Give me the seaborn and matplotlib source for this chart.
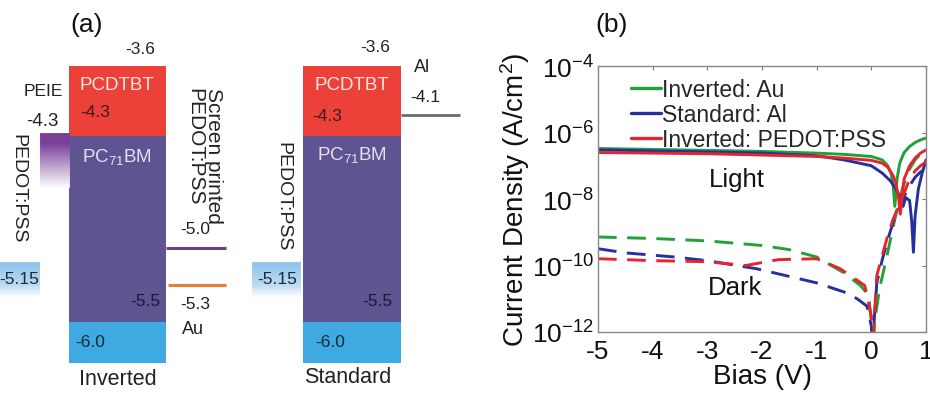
import numpy as np
import pandas as pd
import matplotlib
matplotlib.use("Agg")
import matplotlib.pyplot as plt
import matplotlib.colors as mcolors
from matplotlib.patches import Rectangle
from matplotlib.lines import Line2D
import seaborn as sns

sns.set_theme(style="white")
plt.rcParams["font.family"] = ["Liberation Sans", "DejaVu Sans"]
plt.rcParams["mathtext.fontset"] = "custom"
plt.rcParams["mathtext.rm"] = "Liberation Sans"
plt.rcParams["mathtext.it"] = "Liberation Sans:italic"
plt.rcParams["mathtext.bf"] = "Liberation Sans:bold"
plt.rcParams["axes.unicode_minus"] = False

# ---------------- data: energy levels (eV) ----------------
donor_lumo = -3.6      # PCDTBT LUMO
acceptor_lumo = -4.3   # PC71BM LUMO
donor_homo = -5.5      # PCDTBT HOMO
acceptor_homo = -6.0   # PC71BM HOMO
peie_wf = -4.3
pedot_wf = -5.15
sp_pedot_wf = -5.0
au_wf = -5.3
al_wf = -4.1

# ---------------- data: J-V curves ----------------
inv_au_light_V = [-5, -4, -3, -2, -1, -0.5, 0, 0.2, 0.3, 0.36, 0.4, 0.43, 0.47, 0.52, 0.6, 0.7, 0.8, 0.9, 1.0]
inv_au_light_J = [3.3e-7, 3.1e-7, 2.9e-7, 2.7e-7, 2.4e-7, 2.2e-7, 1.9e-7, 1.5e-7, 1.0e-7, 6e-8, 2.5e-8, 6e-9, 4e-8, 1.2e-7, 2.5e-7, 3.8e-7, 5e-7, 6e-7, 6.8e-7]

std_al_light_V = [-5, -4, -3, -2, -1, -0.5, 0, 0.2, 0.35, 0.45, 0.52, 0.58, 0.63, 0.7, 0.74, 0.77, 0.8, 0.86, 0.93, 1.0]
std_al_light_J = [3.0e-7, 2.8e-7, 2.6e-7, 2.4e-7, 2.0e-7, 1.5e-7, 1.0e-7, 6e-8, 3.5e-8, 2e-8, 1.2e-8, 6e-9, 1.1e-8, 9e-9, 2e-9, 2.5e-10, 3e-9, 2e-8, 6e-8, 1.5e-7]

inv_pedot_light_V = [-5, -4, -3, -2, -1, -0.5, 0, 0.2, 0.3, 0.4, 0.45, 0.5, 0.53, 0.56, 0.6, 0.7, 0.8, 0.9, 1.0]
inv_pedot_light_J = [2.5e-7, 2.4e-7, 2.3e-7, 2.1e-7, 1.9e-7, 1.7e-7, 1.45e-7, 1.2e-7, 9e-8, 5e-8, 3e-8, 1e-8, 3.5e-9, 1.2e-8, 4e-8, 1e-7, 1.7e-7, 2.4e-7, 3e-7]

inv_au_dark_V = [-5, -4, -3, -2, -1.5, -1, -0.5, -0.2, -0.05, 0.0, 0.02, 0.06, 0.15, 0.3, 0.4, 0.5, 0.6, 0.7, 0.8, 0.9, 1.0]
inv_au_dark_J = [7.2e-10, 6.5e-10, 5.5e-10, 4e-10, 3e-10, 1.8e-10, 6e-11, 2.5e-11, 1.3e-11, 2e-12, 1e-13, 2e-12, 2e-11, 2.5e-10, 1.5e-9, 8e-9, 3e-8, 8e-8, 1.5e-7, 2.3e-7, 3e-7]

std_al_dark_V = [-5, -4.5, -3.6, -3, -2.1, -1, -0.5, -0.26, -0.08, 0.0, 0.02, 0.05, 0.1, 0.2, 0.3, 0.4, 0.5, 0.6, 0.7, 0.8, 0.9, 1.0]
std_al_dark_J = [3.2e-10, 2.4e-10, 1.8e-10, 1.4e-10, 8e-11, 3e-11, 1.6e-11, 1e-11, 6e-12, 1.5e-12, 1e-13, 2e-12, 3e-11, 1.5e-10, 6e-10, 2e-9, 5e-9, 1.2e-8, 2.5e-8, 4.5e-8, 6.5e-8, 8e-8]

inv_pedot_dark_V = [-5, -4, -3, -2.3, -1.7, -1, -0.57, -0.12, 0.0, 0.02, 0.05, 0.1, 0.2, 0.3, 0.4, 0.5, 0.6, 0.7, 0.8, 0.9, 1.0]
inv_pedot_dark_J = [1.6e-10, 1.4e-10, 1.3e-10, 1e-10, 1.5e-10, 1.6e-10, 8e-11, 2.5e-11, 3e-12, 1e-13, 2e-12, 5e-11, 2e-10, 8e-10, 2.5e-9, 6e-9, 1.5e-8, 4e-8, 7e-8, 1e-7, 1.3e-7]

devices = ["Inverted: Au", "Standard: Al", "Inverted: PEDOT:PSS"]
xticks = [-5, -4, -3, -2, -1, 0, 1]
yticks = [1e-12, 1e-10, 1e-8, 1e-6, 1e-4]
ytick_labels = ["$10^{-12}$", "$10^{-10}$", "$10^{-8}$", "$10^{-6}$", "$10^{-4}$"]

# ---------------- styles ----------------
line_colors = {"Inverted: Au": "#22A13A", "Standard: Al": "#26309C", "Inverted: PEDOT:PSS": "#E5252B"}
red_c, purple_c, blue_c = "#EB4139", "#605392", "#3FA9E2"

frames = []
for dev, cond, V, J in [
    ("Inverted: Au", "Light", inv_au_light_V, inv_au_light_J),
    ("Standard: Al", "Light", std_al_light_V, std_al_light_J),
    ("Inverted: PEDOT:PSS", "Light", inv_pedot_light_V, inv_pedot_light_J),
    ("Inverted: Au", "Dark", inv_au_dark_V, inv_au_dark_J),
    ("Standard: Al", "Dark", std_al_dark_V, std_al_dark_J),
    ("Inverted: PEDOT:PSS", "Dark", inv_pedot_dark_V, inv_pedot_dark_J),
]:
    frames.append(pd.DataFrame({"device": dev, "cond": cond, "V": V, "J": J}))
df = pd.concat(frames, ignore_index=True)

W, H = 930, 402
fig = plt.figure(figsize=(W / 100, H / 100), dpi=100)
fig.patch.set_facecolor("white")

# ================= panel (a) : energy diagram =================
# schematic (not to scale) energy axis: depth -> vertical layout position
anchor_depth = np.array([2.93, 3.6, 4.1, 4.3, 5.0, 5.15, 5.3, 6.0, 6.4, 6.78])
anchor_pos = np.array([0, 67, 116, 137, 249, 263, 286, 323, 364, 402], dtype=float)

def fwd(e):
    return -np.interp(-np.asarray(e, dtype=float), anchor_depth, anchor_pos)

def inv(v):
    return -np.interp(-np.asarray(v, dtype=float), anchor_pos, anchor_depth)

axa = fig.add_axes([0, 0, 470 / W, 1])
axa.set_yscale("function", functions=(fwd, inv))
axa.set_xlim(0, 470)
axa.set_ylim(-6.78, -2.93)
axa.axis("off")
axa.patch.set_visible(False)

block_base = -6.4

def stack(x0, x1):
    axa.add_patch(Rectangle((x0, acceptor_lumo), x1 - x0, donor_lumo - acceptor_lumo, color=red_c, lw=0))
    axa.add_patch(Rectangle((x0, acceptor_homo), x1 - x0, acceptor_lumo - acceptor_homo, color=purple_c, lw=0))
    axa.add_patch(Rectangle((x0, block_base), x1 - x0, acceptor_homo - block_base, color=blue_c, lw=0))

def gradient_box(x0, x1, e_top, e_bot, color, solid=0.0, n=40):
    rgb = np.array(mcolors.to_rgb(color))
    edges = np.linspace(e_top, e_bot, n + 1)
    for i in range(n):
        t = i / n
        a = 1.0 if t < solid else max(0.0, 1 - (t - solid) / (1 - solid))
        c = rgb * a + (1 - a) * np.ones(3)
        axa.fill_between([x0, x1], edges[i], edges[i + 1], color=c, lw=0.6, edgecolor=c)

def lab(txt, x, e, dy, size=12.5, color="#222222", **kw):
    axa.annotate(txt, xy=(x, e), xytext=(0, dy), textcoords="offset pixels",
                 ha=kw.pop("ha", "center"), va=kw.pop("va", "center"),
                 fontsize=size, color=color, **kw)

# Inverted
stack(69, 166)
gradient_box(40, 69, peie_wf + 0.03, -4.62, "#7A3E98", solid=0.2)
gradient_box(0, 39, pedot_wf, -5.52, "#8EC3EA", solid=0.0)
axa.plot([166, 226], [sp_pedot_wf, sp_pedot_wf], color="#6A3F8E", lw=2.2, solid_capstyle="butt")
axa.plot([168, 226], [au_wf, au_wf], color="#E57F35", lw=2.2, solid_capstyle="butt")

lab("-3.6", 140, donor_lumo, 17)
lab("PCDTBT", 117, donor_lumo, -18, size=13.5, color="#FBE6E4")
lab("-4.3", 95, acceptor_lumo, 24, color="#3A1C22")
lab("PC$_{71}$BM", 117, acceptor_lumo, -20, size=13.5, color="#E4E0F2")
lab("PEIE", 43, peie_wf, 45, size=12.5)
lab("-4.3", 42, peie_wf, 15, size=13.5)
lab("PEDOT:PSS", 18, peie_wf, -52, size=14, rotation=270)
lab("Screen printed\nPEDOT:PSS", 204, donor_lumo, -21, size=15, rotation=270,
    va="top", multialignment="left", linespacing=1.0)
lab("-5.0", 195, sp_pedot_wf, 19)
lab("-5.3", 195, au_wf, -19)
lab("Au", 193, au_wf, -44, size=13)
lab("-5.5", 145, donor_homo, -5, color="#1C1833")
lab("-6.0", 90, acceptor_homo, -20, color="#13283A")
lab("-5.15", 19, pedot_wf, -17, color="#1B2A3A")
lab("Inverted", 118, block_base, -16, size=15.5)

# Standard
stack(303, 401)
gradient_box(252, 300, pedot_wf, -5.52, "#8EC3EA", solid=0.0)
axa.plot([401, 460], [al_wf, al_wf], color="#6B6B6B", lw=2.0, solid_capstyle="butt")
lab("-3.6", 375, donor_lumo, 19)
lab("PCDTBT", 352, donor_lumo, -18, size=13.5, color="#FBE6E4")
lab("-4.3", 327, acceptor_lumo, 20, color="#3A1C22")
lab("PC$_{71}$BM", 352, acceptor_lumo, -18, size=13.5, color="#E4E0F2")
lab("Al", 422, donor_lumo, 0, size=13)
lab("-4.1", 425, al_wf, 18)
lab("PEDOT:PSS", 283, peie_wf, -60, size=14, rotation=270)
lab("-5.15", 277, pedot_wf, -17, color="#1B2A3A")
lab("-5.5", 377, donor_homo, -5, color="#1C1833")
lab("-6.0", 330, acceptor_homo, -20, color="#13283A")
lab("Standard", 348, block_base, -14, size=15.5)

fig.text(87 / W, 1 - 25 / H, "(a)", fontsize=19, ha="center", va="center", color="#111111")
fig.text(612 / W, 1 - 25 / H, "(b)", fontsize=19, ha="center", va="center", color="#111111")

# ================= panel (b) : J-V =================
axb = fig.add_axes([598 / W, 1 - 333 / H, 328 / W, 266 / H])
sns.lineplot(data=df, x="V", y="J", hue="device", style="cond", hue_order=devices,
             palette=line_colors, style_order=["Light", "Dark"],
             dashes={"Light": "", "Dark": (6.4, 3.6)}, estimator=None, sort=False,
             lw=2.1, legend=False, ax=axb)
axb.set_yscale("log")
axb.set_xlim(-5, 1)
axb.set_ylim(1e-12, 1e-4)
axb.set_xticks(xticks)
axb.set_xticklabels([str(t) for t in xticks])
axb.set_yticks(yticks)
axb.set_yticklabels(ytick_labels)
axb.minorticks_off()
axb.tick_params(direction="in", top=True, right=True, length=3, width=0.8,
                color="#777777", labelsize=19, pad=5, labelcolor="#111111")
axb.tick_params(axis="y", pad=3)
for s in axb.spines.values():
    s.set_color("#888888")
    s.set_linewidth(1.0)
axb.set_xlabel("Bias (V)", fontsize=20, labelpad=0, color="#111111")
axb.set_ylabel("Current Density (A/cm$^2$)", fontsize=20, labelpad=0, color="#111111")
axb.text(-2.46, 10 ** -7.4, "Light", fontsize=18.5, ha="center", va="center", color="#111111")
axb.text(-2.5, 10 ** -10.65, "Dark", fontsize=18.5, ha="center", va="center", color="#111111")

handles = [Line2D([0], [0], color=line_colors[d], lw=2.4) for d in devices]
axb.legend(handles, devices, loc="upper left", bbox_to_anchor=(0.1, 0.955), frameon=False,
           fontsize=16.5, handlelength=1.3, handletextpad=0.05, labelspacing=0.08,
           borderpad=0, borderaxespad=0)

fig.savefig("out.png", dpi=100, facecolor="white")
